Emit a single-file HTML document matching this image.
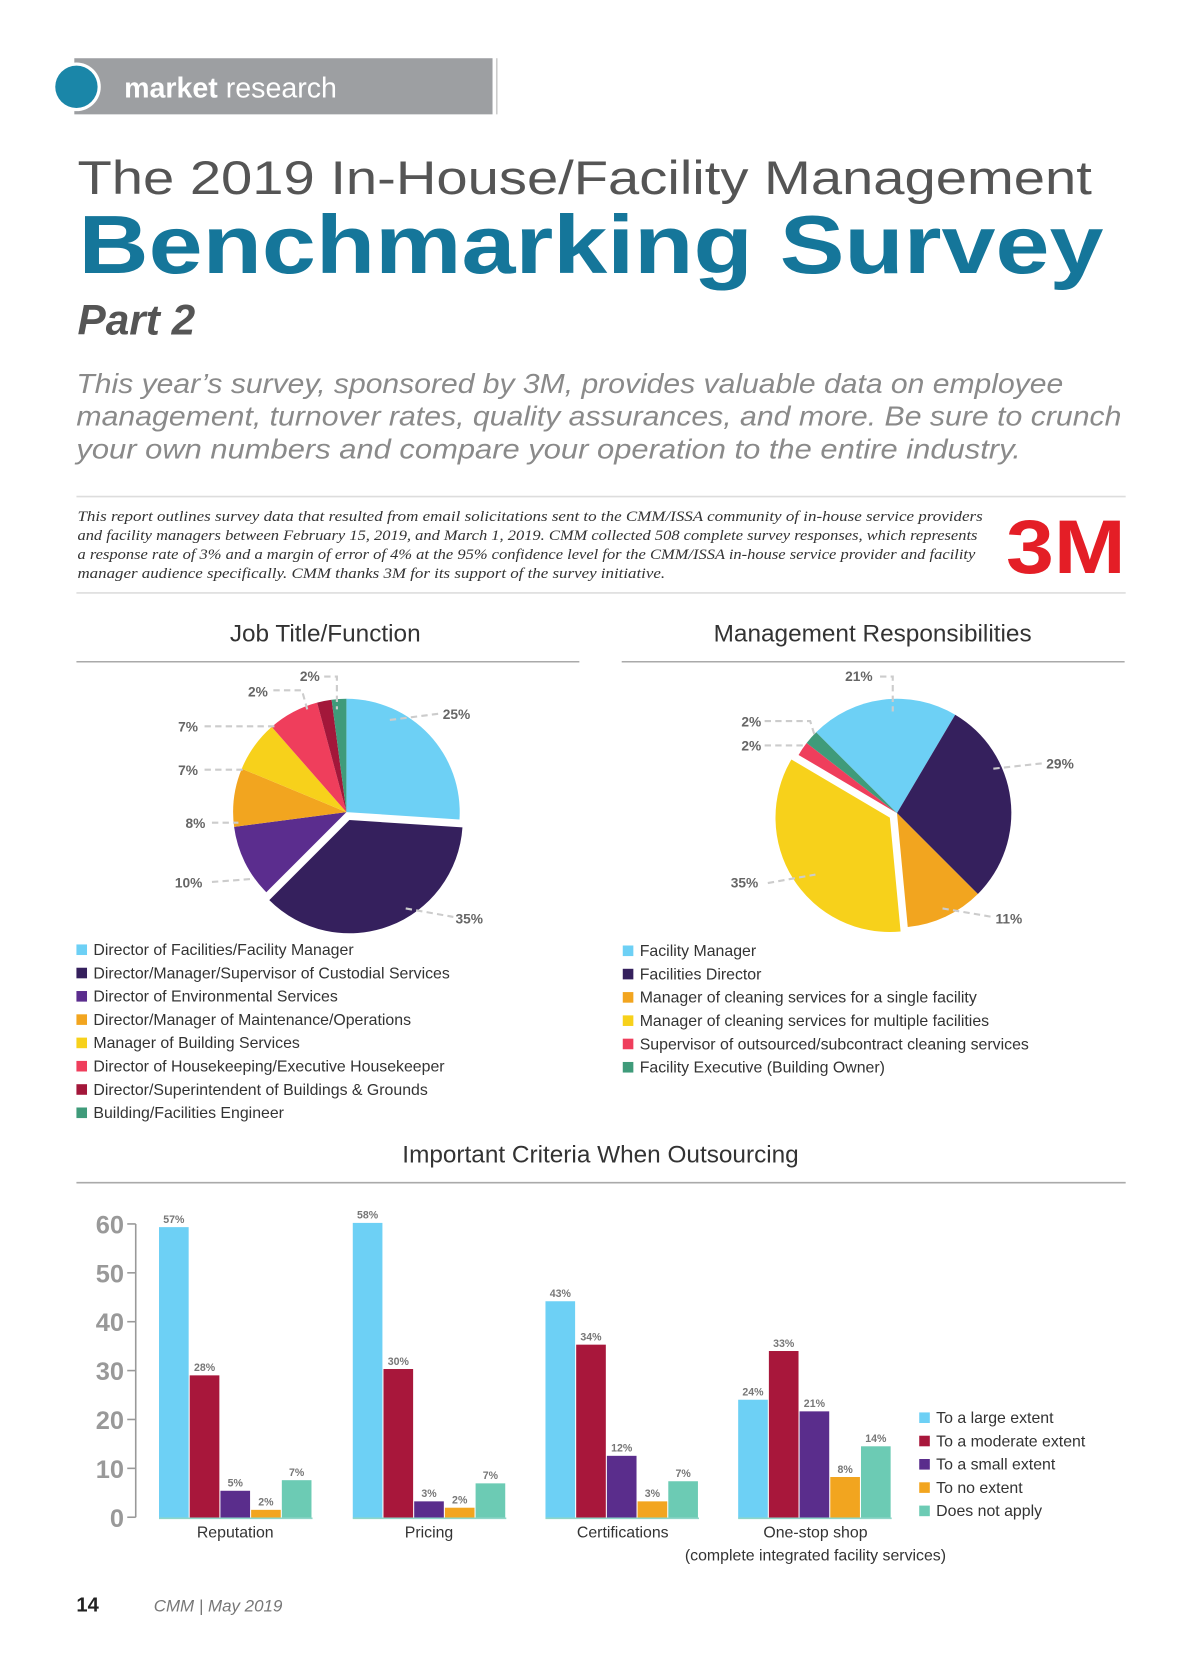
<!DOCTYPE html>
<html><head><meta charset="utf-8">
<style>
html,body{margin:0;padding:0;background:#fff;}
svg{display:block}
text{font-family:"Liberation Sans",sans-serif;}
</style></head><body>
<svg id="s" width="1200" height="1657" viewBox="0 0 1133 1565" xmlns="http://www.w3.org/2000/svg">
<rect width="1133" height="1565" fill="#fff"/>
<rect x="70" y="55" width="395" height="53" fill="#9d9fa2"/>
<line x1="469" y1="55" x2="469" y2="108" stroke="#ccc" stroke-width="1.5"/>
<circle cx="72" cy="82" r="23" fill="#fff"/>
<circle cx="72" cy="82" r="20" fill="#1a86a8"/>
<text x="117" y="92" font-size="27" fill="#fff"><tspan font-weight="bold">market</tspan> research</text>
<text x="73" y="183" font-size="45" fill="#555" textLength="958" lengthAdjust="spacingAndGlyphs">The 2019 In-House/Facility Management</text>
<text x="74" y="258" font-size="78" font-weight="bold" fill="#15769a" textLength="968" lengthAdjust="spacingAndGlyphs">Benchmarking Survey</text>
<text x="73" y="316" font-size="40" font-weight="bold" font-style="italic" fill="#555">Part 2</text>
<g font-size="26" font-style="italic" fill="#8a8a8a">
<text x="72" y="371" textLength="932" lengthAdjust="spacingAndGlyphs">This year’s survey, sponsored by 3M, provides valuable data on employee</text>
<text x="72" y="402" textLength="987" lengthAdjust="spacingAndGlyphs">management, turnover rates, quality assurances, and more. Be sure to crunch</text>
<text x="72" y="433" textLength="892" lengthAdjust="spacingAndGlyphs">your own numbers and compare your operation to the entire industry.</text>
</g>
<line x1="72" y1="469" x2="1063" y2="469" stroke="#ddd" stroke-width="1.5"/>
<g font-size="14" font-style="italic" fill="#333">
<text x="73" y="492" textLength="855" lengthAdjust="spacingAndGlyphs" style="font-family:'Liberation Serif',serif">This report outlines survey data that resulted from email solicitations sent to the CMM/ISSA community of in-house service providers</text>
<text x="73" y="510" textLength="850" lengthAdjust="spacingAndGlyphs" style="font-family:'Liberation Serif',serif">and facility managers between February 15, 2019, and March 1, 2019. CMM collected 508 complete survey responses, which represents</text>
<text x="73" y="528" textLength="848" lengthAdjust="spacingAndGlyphs" style="font-family:'Liberation Serif',serif">a response rate of 3% and a margin of error of 4% at the 95% confidence level for the CMM/ISSA in-house service provider and facility</text>
<text x="73" y="546" textLength="555" lengthAdjust="spacingAndGlyphs" style="font-family:'Liberation Serif',serif">manager audience specifically. CMM thanks 3M for its support of the survey initiative.</text>
</g>
<text x="950" y="541" font-size="72" font-weight="bold" fill="#e41e26" textLength="113" lengthAdjust="spacingAndGlyphs">3M</text>
<line x1="72" y1="560" x2="1063" y2="560" stroke="#ddd" stroke-width="1.5"/>
<text x="307" y="606" font-size="23" fill="#333" text-anchor="middle">Job Title/Function</text>
<line x1="72" y1="625" x2="547" y2="625" stroke="#aaa" stroke-width="1.5"/>
<text x="824" y="606" font-size="23" fill="#333" text-anchor="middle">Management Responsibilities</text>
<line x1="587" y1="625" x2="1062" y2="625" stroke="#aaa" stroke-width="1.5"/>
<g id="pies"></g>
<g font-size="13" font-weight="bold" fill="#666">
<text x="418" y="679">25%</text><text x="430" y="872">35%</text>
<text x="165" y="838">10%</text><text x="175" y="782">8%</text>
<text x="168" y="732">7%</text><text x="168" y="691">7%</text>
<text x="234" y="658">2%</text><text x="283" y="643">2%</text>
<text x="798" y="643">21%</text><text x="988" y="726">29%</text>
<text x="940" y="872">11%</text><text x="690" y="838">35%</text>
<text x="700" y="686">2%</text><text x="700" y="709">2%</text>
</g>
<g stroke="#ccc" stroke-width="2" stroke-dasharray="6,4" fill="none">
<path d="M368 680 L415 674"/><path d="M383 858 L428 866"/>
<path d="M200 833 L240 830"/><path d="M200 777 L225 777"/>
<path d="M193 727 L232 727"/><path d="M193 686 L260 686"/>
<path d="M258 652 L285 652 L290 670"/><path d="M306 639 L318 639 L318 670"/>
<path d="M831 639 L843 639 L843 672"/><path d="M938 726 L984 721"/>
<path d="M890 858 L937 866"/><path d="M725 834 L770 826"/>
<path d="M722 681 L765 681 L770 697"/><path d="M722 704 L760 704"/>
</g>
<g id="leg" font-size="15" fill="#333"></g>
<text x="567" y="1098" font-size="23" fill="#333" text-anchor="middle">Important Criteria When Outsourcing</text>
<line x1="72" y1="1117" x2="1063" y2="1117" stroke="#aaa" stroke-width="1.5"/>
<path d="M128 1156 L128 1433" stroke="#999" stroke-width="1.5" fill="none"/>
<g id="bars"></g>
<g font-size="15" fill="#333" text-anchor="middle">
<text x="222" y="1452">Reputation</text><text x="405" y="1452">Pricing</text>
<text x="588" y="1452">Certifications</text><text x="770" y="1452">One-stop shop</text>
<text x="770" y="1474">(complete integrated facility services)</text>
</g>
<text x="72" y="1522" font-size="19" font-weight="bold" fill="#222">14</text>
<text x="145" y="1522" font-size="16" font-style="italic" fill="#777">CMM | May 2019</text>
</svg>
<script>
var NS="http://www.w3.org/2000/svg";
function el(p,t,a,txt){var e=document.createElementNS(NS,t);for(var k in a)e.setAttribute(k,a[k]);if(txt)e.textContent=txt;p.appendChild(e);return e;}
function pt(cx,cy,r,a){a=a*Math.PI/180;return[cx+r*Math.sin(a),cy-r*Math.cos(a)];}
function slice(g,cx,cy,r,a0,a1,c,ex){var m=(a0+a1)/2;if(ex){var o=pt(0,0,ex,m);cx+=o[0];cy+=o[1];}
var p0=pt(cx,cy,r,a0),p1=pt(cx,cy,r,a1);el(g,'path',{d:'M'+cx+' '+cy+'L'+p0+'A'+r+' '+r+' 0 '+((a1-a0)>180?1:0)+' 1 '+p1+'Z',fill:c});}
var pies=document.getElementById('pies');
var NV='#35205d',LB='#6dd0f5',PU='#5b2d8e',OR='#f2a51f',YE='#f7d11b',PK='#ef3e5c',CR='#a3173a',GR='#3f9b7a';
var v1=[[25,LB],[35,NV,8],[10,PU],[8,OR],[7,YE],[7,PK],[2,CR],[2,GR]],a=0,tot=96;
v1.forEach(function(s){var d=s[0]/tot*360;slice(pies,327,767,107,a,a+d,s[1],s[2]);a+=d;});
var v2=[[21,LB],[29,NV],[11,OR],[35,YE,8],[2,PK],[2,GR]];a=-45;
v2.forEach(function(s){var d=s[0]/100*360;slice(pies,847,768,108,a,a+d,s[1],s[2]);a+=d;});
var leg=document.getElementById('leg');
function L(x,y,c,t){el(leg,'rect',{x:x,y:y-10,width:10,height:10,fill:c});el(leg,'text',{x:x+16,y:y},t);}
[['Director of Facilities/Facility Manager',LB],['Director/Manager/Supervisor of Custodial Services',NV],['Director of Environmental Services',PU],['Director/Manager of Maintenance/Operations',OR],['Manager of Building Services',YE],['Director of Housekeeping/Executive Housekeeper',PK],['Director/Superintendent of Buildings & Grounds',CR],['Building/Facilities Engineer',GR]].forEach(function(s,i){L(72,902+22*i,s[1],s[0]);});
[['Facility Manager',LB],['Facilities Director',NV],['Manager of cleaning services for a single facility',OR],['Manager of cleaning services for multiple facilities',YE],['Supervisor of outsourced/subcontract cleaning services',PK],['Facility Executive (Building Owner)',GR]].forEach(function(s,i){L(588,903+22*i,s[1],s[0]);});
var BC=['#6dd0f5','#a8173b','#5a2d8c','#f2a51f','#6ccbb4'];
['To a large extent','To a moderate extent','To a small extent','To no extent','Does not apply'].forEach(function(s,i){L(868,1344+22*i,BC[i],s);});
var bars=document.getElementById('bars');
for(var i=0;i<=6;i++){var y=1433-i*46.17;el(bars,'line',{x1:120,y1:y,x2:128,y2:y,stroke:'#999','stroke-width':1.5});
el(bars,'text',{x:117,y:y+9,'font-size':24,'font-weight':'bold',fill:'#999','text-anchor':'end'},String(i*10));}
var G=[[150,[1159,1299,1408,1426,1398],['57%','28%','5%','2%','7%']],[333,[1155,1293,1418,1424,1401],['58%','30%','3%','2%','7%']],[515,[1229,1270,1375,1418,1399],['43%','34%','12%','3%','7%']],[697,[1322,1276,1333,1395,1366],['24%','33%','21%','8%','14%']]];
G.forEach(function(g){for(var j=0;j<5;j++){var x=g[0]+j*29;el(bars,'rect',{x:x,y:g[1][j],width:28,height:1434-g[1][j],fill:BC[j]});
el(bars,'text',{x:x+14,y:g[1][j]-4,'font-size':10,'font-weight':'bold',fill:'#777','text-anchor':'middle'},g[2][j]);}
el(bars,'line',{x1:g[0],y1:1434,x2:g[0]+145,y2:1434,stroke:'#8fd6c8','stroke-width':1.5});});
</script>
</body></html>
